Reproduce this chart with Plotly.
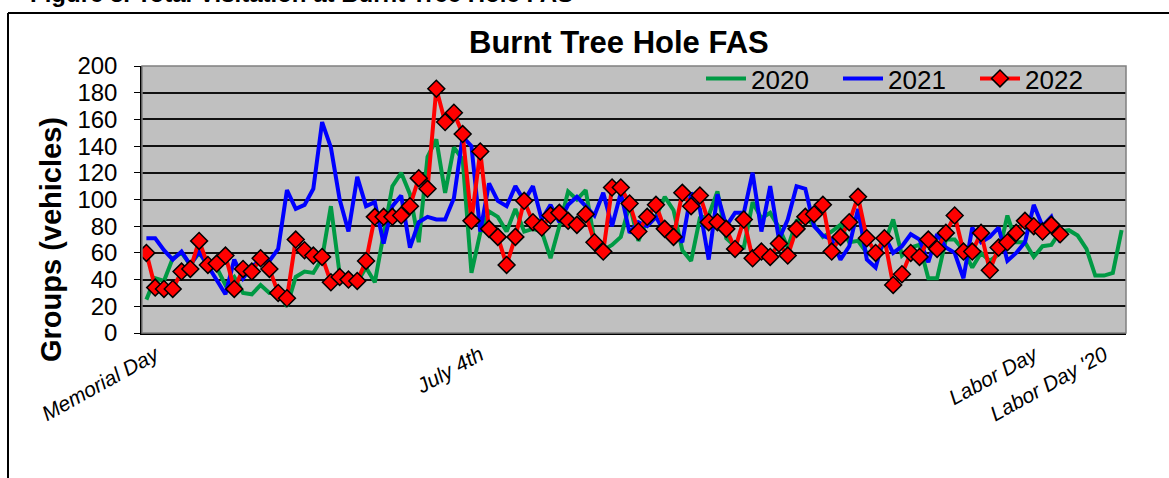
import plotly.graph_objects as go

# ---- data (daily categories, aligned on Memorial Day) ----
y2020 = [25, 41, 39, 56, 60, 51, 60, 51, 49, 36,
         42, 30, 29, 36, 30, 30, 20, 42, 46, 45,
         56, 95, 44, 42, 38, 49, 38, 75, 110, 120,
         104, 68, 132, 145, 105, 139, 130, 45, 75, 91,
         87, 76, 93, 76, 78, 76, 56, 80, 106, 100,
         107, 69, 62, 66, 72, 96, 69, 85, 87, 102,
         92, 62, 54, 86, 88, 106, 71, 65, 64, 98,
         86, 90, 79, 64, 84, 86, 81, 72, 76, 81,
         68, 69, 60, 57, 67, 85, 58, 64, 66, 41,
         41, 70, 70, 62, 49, 60, 54, 59, 88, 68,
         68, 57, 65, 66, 76, 77, 73, 63, 43, 43,
         45, 77]
y2021 = [71, 71, 62, 55, 61, 51, 61, 50, 40, 29,
         55, 41, 50, 54, 54, 63, 107, 93, 96, 108,
         158, 139, 100, 76, 117, 95, 98, 67, 95, 103,
         64, 83, 87, 85, 85, 101, 147, 140, 76, 112,
         99, 95, 110, 99, 110, 85, 96, 83, 96, 102,
         95, 88, 105, 80, 105, 75, 83, 80, 87, 75,
         76, 68, 105, 93, 55, 104, 80, 90, 90, 120,
         76, 110, 70, 85, 110, 108, 80, 73, 70, 55,
         65, 93, 55, 49, 73, 60, 65, 74, 70, 53,
         74, 64, 60, 41, 79, 68, 72, 79, 54, 60,
         68, 96, 80, 87, 68]
y2022 = [60, 34, 33, 33, 46, 48, 69, 51, 52, 58,
         33, 48, 46, 56, 48, 30, 26, 70, 62, 58,
         57, 38, 42, 40, 39, 54, 87, 87, 87, 88,
         95, 116, 108, 183, 158, 165, 149, 84, 136, 78,
         72, 51, 72, 99, 83, 79, 88, 90, 84, 81,
         89, 68, 61, 109, 109, 97, 76, 87, 96, 78,
         72, 105, 95, 103, 83, 83, 78, 63, 85, 56,
         61, 57, 67, 58, 78, 87, 89, 96, 61, 72,
         83, 102, 71, 60, 71, 36, 44, 60, 57, 70,
         63, 75, 88, 61, 61, 75, 47, 64, 68, 75,
         84, 80, 76, 81, 74]

tick_positions = [1, 38, 101, 109]
tick_labels = ["Memorial Day", "July 4th", "Labor Day", "Labor Day '20"]
y_ticks = list(range(0, 201, 20))

FONT = "Liberation Sans, Arial, sans-serif"

fig = go.Figure()
fig.add_trace(go.Scatter(x=list(range(len(y2020))), y=y2020, name="2020", mode="lines",
                         line=dict(color="#009A44", width=4)))
fig.add_trace(go.Scatter(x=list(range(len(y2021))), y=y2021, name="2021", mode="lines",
                         line=dict(color="#0000FF", width=4)))
fig.add_trace(go.Scatter(x=list(range(len(y2022))), y=y2022, name="2022", mode="lines+markers",
                         line=dict(color="#FF0000", width=4),
                         marker=dict(symbol="diamond", size=13, color="#FF0000",
                                     line=dict(color="#000000", width=1.5))))

# plot area in pixels: left 142, right 1126, top 66, bottom 333
L, R, T, B = 142, 1126, 66, 333
W, H = 1169, 478
def px(xp):
    return (xp - L) / (R - L)
def py(yp):
    return (B - yp) / (B - T)

fig.update_layout(
    width=W, height=H,
    margin=dict(l=L, r=W - R, t=T, b=H - B, pad=0, autoexpand=False),
    paper_bgcolor="white",
    plot_bgcolor="#C0C0C0",
    font=dict(family=FONT, color="black"),
    showlegend=True,
    legend=dict(orientation="h", x=px(701), y=py(55), xanchor="left", yanchor="top",
                bgcolor="rgba(0,0,0,0)", font=dict(size=26, family=FONT),
                entrywidth=82, entrywidthmode="pixels", itemwidth=40,
                tracegroupgap=0),
    xaxis=dict(range=[-0.5, 111.5], tickmode="array", tickvals=tick_positions,
               ticktext=tick_labels, tickangle=-29, showgrid=False, zeroline=False,
               showline=True, linecolor="black", linewidth=1.5, ticks="",
               automargin=False,
               tickfont=dict(size=21, family=FONT, style="italic")),
    yaxis=dict(range=[0, 200], tickmode="array", tickvals=y_ticks, showgrid=True,
               gridcolor="#111111", gridwidth=1.6, zeroline=False, showline=True,
               linecolor="black", linewidth=1.5, ticks="outside", ticklen=6,
               tickcolor="black", automargin=False, ticklabelstandoff=12,
               tickfont=dict(size=24, family=FONT)),
    annotations=[
        dict(text="<b>Burnt Tree Hole FAS</b>", xref="paper", yref="paper",
             x=px(619), y=py(42), xanchor="center", yanchor="middle",
             showarrow=False, font=dict(size=31, family=FONT)),
        dict(text="<b>Groups (vehicles)</b>", xref="paper", yref="paper",
             x=px(51), y=py(240), xanchor="center", yanchor="middle", textangle=-90,
             showarrow=False, font=dict(size=29, family=FONT)),
        dict(text="<b>Figure 3. Total Visitation at Burnt Tree Hole FAS</b>", xref="paper",
             yref="paper", x=px(28), y=py(9), xanchor="left", yanchor="bottom",
             showarrow=False, font=dict(size=24, family=FONT)),
    ],
    shapes=[
        dict(type="rect", xref="paper", yref="paper", x0=0, x1=1, y0=0, y1=1,
             line=dict(color="#808080", width=1.5), layer="above"),
        dict(type="line", xref="paper", yref="paper", x0=px(8), x1=px(8), y0=py(13), y1=py(480),
             line=dict(color="black", width=2)),
        dict(type="line", xref="paper", yref="paper", x0=px(8), x1=px(1171), y0=py(13), y1=py(13),
             line=dict(color="black", width=2)),
    ],
)

fig.write_html("out.html", config={"displayModeBar": False},
               post_script="document.body.style.margin='0';document.body.style.overflow='hidden';")
